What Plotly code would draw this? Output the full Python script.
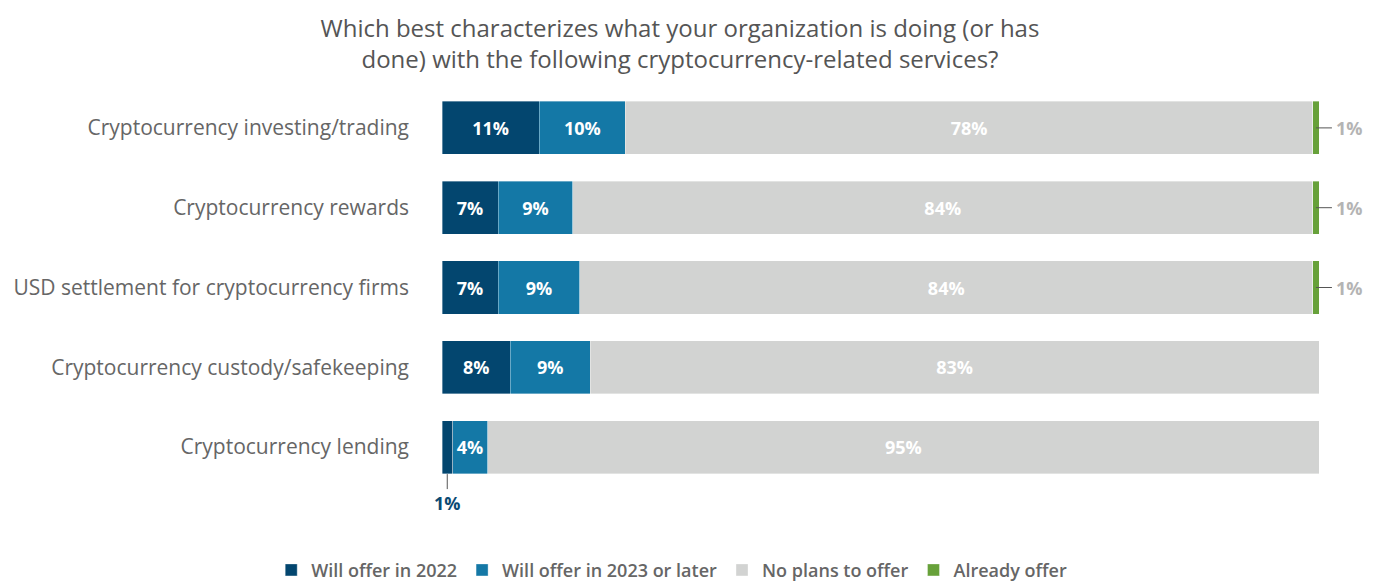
import plotly.graph_objects as go

# Survey rows, top to bottom
categories = ["Cryptocurrency investing/trading",
              "Cryptocurrency rewards",
              "USD settlement for cryptocurrency firms",
              "Cryptocurrency custody/safekeeping",
              "Cryptocurrency lending"]

# shares (%)
offer_2022 = [11.1, 6.4, 6.4, 7.8, 1.2]
offer_2023 = [9.8, 8.5, 9.3, 9.1, 4.0]
no_plans = [78.4, 84.4, 83.6, 83.1, 94.8]
already = [0.7, 0.7, 0.7, 0, 0]

# printed labels
lab_2022 = ["11%", "7%", "7%", "8%", "1%"]
lab_2023 = ["10%", "9%", "9%", "9%", "4%"]
lab_none = ["78%", "84%", "84%", "83%", "95%"]
lab_already = ["1%", "1%", "1%", "", ""]

series = [
    ("Will offer in 2022", offer_2022, lab_2022, "#03466f"),
    ("Will offer in 2023 or later", offer_2023, lab_2023, "#1478a6"),
    ("No plans to offer", no_plans, lab_none, "#d2d3d2"),
    ("Already offer", already, lab_already, "#67a13a"),
]

FONT = "Open Sans"

fig = go.Figure()
for name, vals, labs, col in series:
    # tiny segments get an outside callout instead of inside text
    txt = [l if v >= 3 else "" for v, l in zip(vals, labs)]
    fig.add_trace(go.Bar(
        name=name, y=categories, x=vals, orientation="h",
        marker=dict(color=col, line=dict(color="rgba(255,255,255,0.6)", width=0.6)),
        text=txt, textposition="inside", insidetextanchor="middle",
        constraintext="none",
        textfont=dict(family=FONT, size=18, color="white", weight=700),
        hoverinfo="skip",
    ))

# callouts for the 1% slivers
for i, cat in enumerate(categories):
    if already[i] > 0:
        xpos = offer_2022[i] + offer_2023[i] + no_plans[i] + already[i] / 2
        fig.add_annotation(x=xpos, y=cat, text=lab_already[i], showarrow=True,
                           arrowhead=0, arrowwidth=1, arrowcolor="#555",
                           ax=16, ay=0, xanchor="left", borderpad=3,
                           font=dict(family=FONT, size=18, color="#b4b4b4", weight=700))
    if 0 < offer_2022[i] < 3:
        fig.add_annotation(x=offer_2022[i] / 2, y=cat, text=lab_2022[i], showarrow=True,
                           arrowhead=0, arrowwidth=1, arrowcolor="#555",
                           ax=0, ay=42, standoff=27, yanchor="top",
                           font=dict(family=FONT, size=18, color="#0b4a73", weight=700))

fig.update_layout(
    barmode="stack",
    bargap=0.334,
    width=1377, height=582,
    margin=dict(l=434, r=66, t=80, b=103, autoexpand=False),
    paper_bgcolor="white", plot_bgcolor="white",
    font=dict(family=FONT, color="#666"),
    title=dict(text="Which best characterizes what your organization is doing (or has<br>done) with the following cryptocurrency-related services?",
               x=0.488, xanchor="center", xref="container",
               y=0.950, yanchor="top", yref="container",
               font=dict(family=FONT, size=24, color="#555")),
    xaxis=dict(range=[0, 100], visible=False),
    yaxis=dict(autorange="reversed", showline=False, showgrid=False,
               ticks="", ticklabelstandoff=32, automargin=False,
               tickfont=dict(family=FONT, size=21, color="#666")),
    legend=dict(orientation="h", xref="container", yref="container",
                x=0.482, xanchor="center", y=0.034, yanchor="middle",
                font=dict(family=FONT, size=18, color="#666", weight=600),
                traceorder="normal", itemwidth=30),
    showlegend=True,
)

fig.write_html("out.html")
